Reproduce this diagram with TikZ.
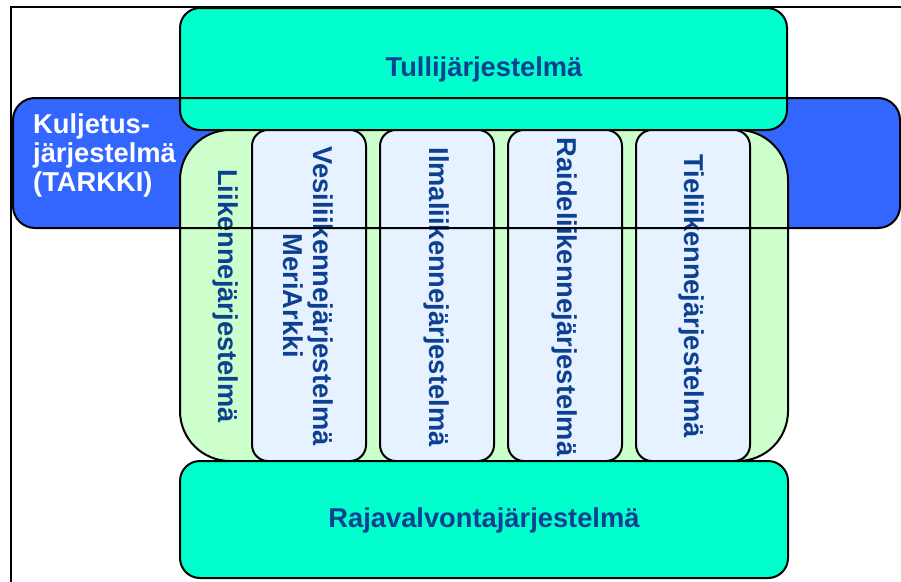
\documentclass[tikz,border=0pt]{standalone}
\usepackage{fontspec}
\setmainfont{Liberation Sans}
\definecolor{tealfill}{RGB}{0,255,204}
\definecolor{bluefill}{RGB}{51,102,255}
\definecolor{greenfill}{RGB}{204,255,204}
\definecolor{subfill}{RGB}{230,242,255}
\definecolor{textblue}{RGB}{14,64,145}
\begin{document}
\begin{tikzpicture}[x=1pt,y=-1pt,
  outline/.style={draw=black,line width=2pt},
  captxt/.style={font=\bfseries\fontsize{27.3}{30}\selectfont,text=textblue,inner sep=0pt},
  vcaptxt/.style={captxt,rotate=-90,align=center},
  subbox/.style={outline,fill=subfill,rounded corners=16pt}]
\useasboundingbox (0,0) rectangle (901,581);

% outer frame
\draw[line width=2pt] (11,7) rectangle (960,640);

% transport system band: fill first, outline drawn last
\fill[bluefill,rounded corners=22pt] (13,98) rectangle (900,228);

% customs system
\draw[outline,fill=tealfill,rounded corners=20pt] (180,8) rectangle (787,130);

% traffic systems frame
\draw[outline,fill=greenfill,rounded corners=50pt] (180,130) rectangle (788,461);

% individual traffic systems
\draw[subbox] (252,130) rectangle (366,461);
\draw[subbox] (380,130) rectangle (494,461);
\draw[subbox] (508,130) rectangle (622,461);
\draw[subbox] (636,130) rectangle (750,461);

% border control system
\draw[outline,fill=tealfill,rounded corners=20pt] (180,461) rectangle (788,578);

% texts
\node[captxt] (tulli) at (484,69) {Tullijärjestelmä};
\node[captxt] (raja) at (484,520) {Rajavalvontajärjestelmä};
\node[captxt,text=white,align=left,anchor=north west,font=\bfseries\fontsize{27.3}{29}\selectfont] (kulj) at (33,114)
  {Kuljetus-\\järjestelmä\\(TARKKI)};
\node[vcaptxt] (liik) at (226,296) {Liikennejärjestelmä};
\node[vcaptxt] (vesi) at (308,296) {Vesiliikennejärjestelmä\\MeriArkki};
\node[vcaptxt] (ilma) at (437,297) {Ilmaliikennejärjestelmä};
\node[vcaptxt] (raide) at (565,297) {Raideliikennejärjestelmä};
\node[vcaptxt] (tie) at (692,296) {Tieliikennejärjestelmä};

% transport system outline on top
\draw[outline,rounded corners=22pt] (13,98) rectangle (900,228);
\end{tikzpicture}
\end{document}
